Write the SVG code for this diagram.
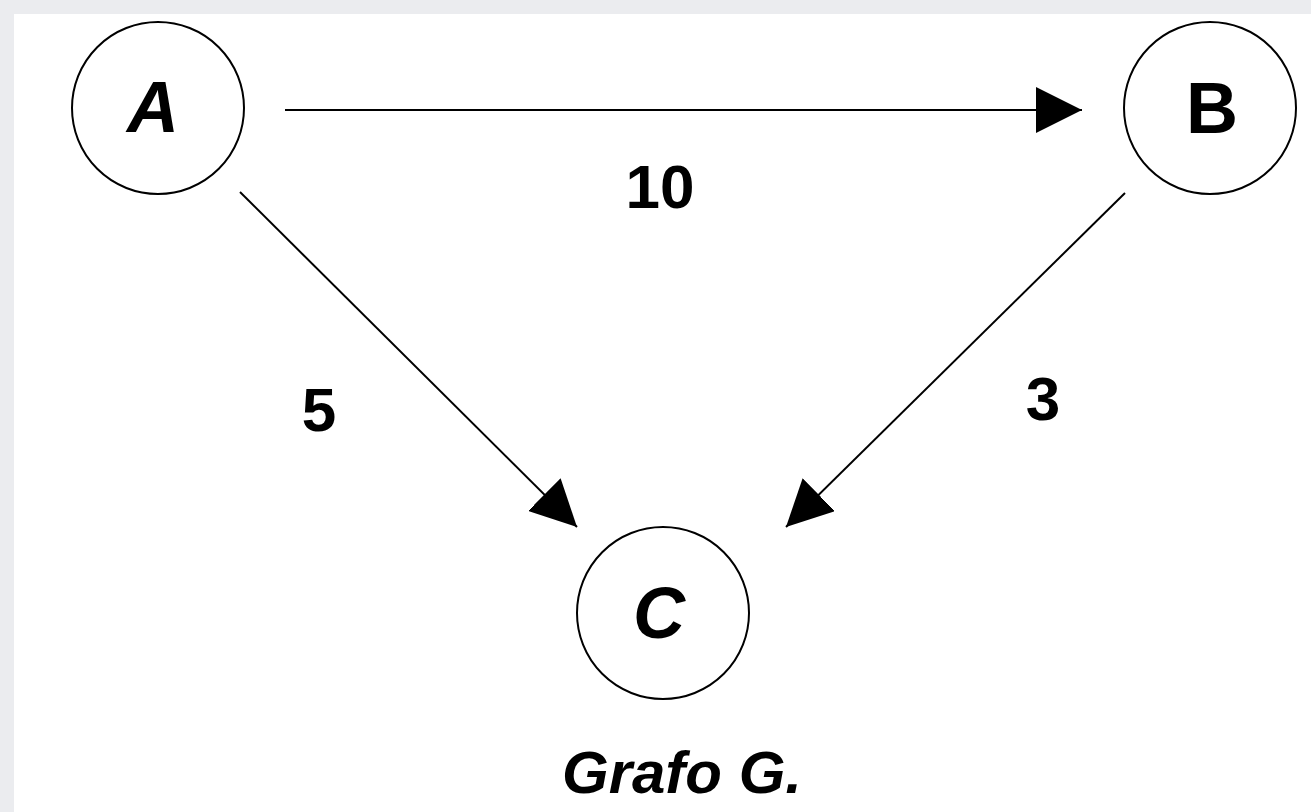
<svg xmlns="http://www.w3.org/2000/svg" width="1311" height="812" viewBox="0 0 1311 812">
  <style>
    .node { fill: none; stroke: #000; stroke-width: 2; }
    .edge { stroke: #000; stroke-width: 2; fill: none; }
    .lbl { font-family: "Liberation Sans", Arial, sans-serif; font-weight: bold; fill: #000; }
    .nl { font-size: 72px; text-anchor: middle; }
    .el { font-size: 62px; text-anchor: middle; }
  </style>
  <defs>
    <marker id="arrow" markerUnits="userSpaceOnUse" markerWidth="46" markerHeight="46" viewBox="0 0 44 44" refX="44" refY="22" orient="auto">
      <path d="M0,0 L44,22 L0,44 z" fill="#000"/>
    </marker>
  </defs>
  <rect x="0" y="0" width="1311" height="812" fill="#ebecef"/>
  <rect x="14" y="14" width="1297" height="798" fill="#ffffff"/>

  <g id="connectors">
    <g id="edge-A-B">
      <line class="edge" x1="285" y1="110" x2="1082" y2="110" marker-end="url(#arrow)"/>
      <text class="lbl el" x="660" y="208">10</text>
    </g>
    <g id="edge-A-C">
      <line class="edge" x1="240" y1="192" x2="577" y2="527" marker-end="url(#arrow)"/>
      <text class="lbl el" x="319" y="431">5</text>
    </g>
    <g id="edge-B-C">
      <line class="edge" x1="1125" y1="193" x2="786" y2="527" marker-end="url(#arrow)"/>
      <text class="lbl el" x="1043" y="420">3</text>
    </g>
  </g>

  <g id="node-A">
    <circle class="node" cx="158" cy="108" r="86"/>
    <text class="lbl nl" x="153" y="132" font-style="italic">A</text>
  </g>
  <g id="node-B">
    <circle class="node" cx="1210" cy="108" r="86"/>
    <text class="lbl nl" x="1212" y="133">B</text>
  </g>
  <g id="node-C">
    <circle class="node" cx="663" cy="613" r="86"/>
    <text class="lbl nl" x="659" y="638" font-style="italic">C</text>
  </g>
  <g id="caption">
    <text class="lbl" x="682" y="793" font-size="60" font-style="italic" text-anchor="middle">Grafo G.</text>
  </g>
</svg>
